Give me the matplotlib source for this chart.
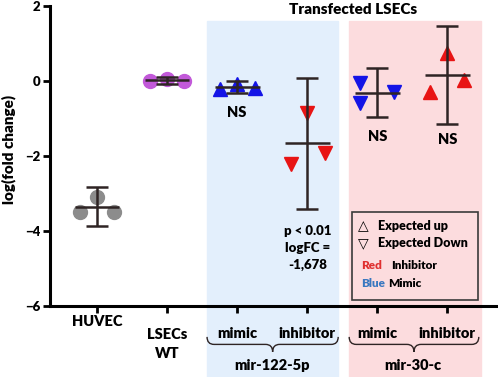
import numpy as np
import matplotlib.pyplot as plt
from matplotlib.patches import Rectangle, PathPatch
from matplotlib.path import Path

plt.rcParams['font.family'] = ['Lato', 'DejaVu Sans']
plt.rcParams['font.weight'] = 'heavy'

# data (log fold change, 3 replicates per group)
labels = ["HUVEC", "LSECs\nWT", "mimic", "inhibitor", "mimic", "inhibitor"]
huvec = [-3.49, -3.09, -3.49]
lsec_wt = [0.0, 0.05, 0.0]
mir122_mimic = [-0.21, -0.08, -0.19]
mir122_inhib = [-2.21, -0.85, -1.92]
mir30_mimic = [-0.05, -0.59, -0.29]
mir30_inhib = [-0.29, 0.75, 0.03]
err = [0.52, 0.09, 0.16, 1.75, 0.66, 1.30]
groups = ["mir-122-5p", "mir-30-c"]

series = [huvec, lsec_wt, mir122_mimic, mir122_inhib, mir30_mimic, mir30_inhib]
offsets = [[-0.24, 0, 0.24], [-0.24, 0, 0.24], [-0.25, 0, 0.25],
           [-0.23, 0, 0.26], [-0.24, -0.24, 0.24], [-0.24, 0, 0.24]]
markers = ['o', 'o', '^', 'v', 'v', '^']
colors = ['#8c8c8c', '#c259d9', '#1414e6', '#e81414', '#1414e6', '#e81414']
sizes = [10, 10, 9.5, 9.5, 9.5, 9.5]
blue_bg = '#e3effc'
pink_bg = '#fcdcde'
line_c = '#2e2424'

fig = plt.figure(figsize=(4.98, 3.77), dpi=100)
ax = fig.add_axes([50 / 498, 71 / 377, 447 / 498, 300 / 377])
ax.set_xlim(-0.671, 5.71)
ax.set_ylim(-6, 2)

# shaded panels for transfected cells
ax.add_patch(Rectangle((1.571, -8.2), 1.872, 9.8, color=blue_bg, zorder=0, clip_on=False))
ax.add_patch(Rectangle((3.6, -8.2), 1.886, 9.8, color=pink_bg, zorder=0, clip_on=False))

for i, vals in enumerate(series):
    xs = [i + o for o in offsets[i]]
    ax.plot(xs, vals, linestyle='none', marker=markers[i], color=colors[i],
            markersize=sizes[i], zorder=2)
    m = np.mean(vals)
    ax.errorbar(i, m, yerr=err[i], color=line_c, lw=1.8, capsize=8, capthick=1.8, zorder=3)
    ax.hlines(m, i - 0.32, i + 0.32, color=line_c, lw=1.8, zorder=3)

for s in ['top', 'right']:
    ax.spines[s].set_visible(False)
for s in ['left', 'bottom']:
    ax.spines[s].set_linewidth(2.2)
ax.set_yticks([-6, -4, -2, 0, 2])
ax.tick_params(axis='y', length=5, width=2, labelsize=9.5, pad=2)
ax.set_xticks(range(6))
ax.set_xticklabels([])
ax.tick_params(axis='x', length=5, width=2)

tr = ax.get_xaxis_transform()
ax.text(0, -0.053, labels[0], transform=tr, ha='center', va='center', fontsize=10.5)
ax.text(1, -0.073, labels[1], transform=tr, ha='center', va='top', fontsize=10.5, linespacing=1.55)
for i in range(2, 6):
    ax.text(i, -0.093, labels[i], transform=tr, ha='center', va='center', fontsize=10.5)


def brace(x0, x1, y, h, r=0.1):
    xm = (x0 + x1) / 2
    yh = y - h / 2
    verts = [(x0, y), (x0, yh), (x0 + r, yh), (xm - r, yh), (xm, yh), (xm, y - h),
             (xm, yh), (xm + r, yh), (x1 - r, yh), (x1, yh), (x1, y)]
    codes = [Path.MOVETO, Path.CURVE3, Path.CURVE3, Path.LINETO, Path.CURVE3, Path.CURVE3,
             Path.CURVE3, Path.CURVE3, Path.LINETO, Path.CURVE3, Path.CURVE3]
    ax.add_patch(PathPatch(Path(verts, codes), fill=False, lw=1.0, color=line_c,
                           transform=tr, clip_on=False))


brace(1.571, 3.443, -0.103, 0.05)
brace(3.6, 5.45, -0.103, 0.05)
ax.text(2.5, -0.197, groups[0], transform=tr, ha='center', va='center', fontsize=10.5)
ax.text(4.51, -0.2, groups[1], transform=tr, ha='center', va='center', fontsize=10.5)

# annotations
ax.text(2.0, -0.83, "NS", ha='center', va='center', fontsize=10.5)
ax.text(4.0, -1.49, "NS", ha='center', va='center', fontsize=10.5)
ax.text(5.0, -1.57, "NS", ha='center', va='center', fontsize=10.5)
ax.text(3.01, -4.45, "p < 0.01\nlogFC =\n-1,678", ha='center', va='center',
        fontsize=9.5, linespacing=1.5)

# key box
ax.add_patch(Rectangle((3.643, -5.84), 1.8, 2.35, facecolor=pink_bg, edgecolor='#3a3a3a',
                       lw=1.2, zorder=1))
ax.text(3.8, -3.87, "\u25B3", ha='center', va='center', fontsize=10, fontweight='normal',
        family='DejaVu Sans')
ax.text(4.01, -3.87, "Expected up", ha='left', va='center', fontsize=9)
ax.text(3.8, -4.32, "\u25BD", ha='center', va='center', fontsize=10, fontweight='normal',
        family='DejaVu Sans')
ax.text(4.01, -4.32, "Expected Down", ha='left', va='center', fontsize=9)
ax.text(3.77, -4.91, "Red", ha='left', va='center', fontsize=8.5, color='#e03030')
ax.text(4.2, -4.91, "Inhibitor", ha='left', va='center', fontsize=8.5)
ax.text(3.77, -5.39, "Blue", ha='left', va='center', fontsize=8.5, color='#3a78c0')
ax.text(4.16, -5.39, "Mimic", ha='left', va='center', fontsize=8.5)

fig.text(353 / 498, 1 - 10 / 377, "Transfected LSECs", ha='center', va='center', fontsize=11)
fig.text(9 / 498, 1 - 149 / 377, "log(fold change)", rotation=90, ha='center', va='center',
         fontsize=11)

fig.savefig('out.png', dpi=100)
